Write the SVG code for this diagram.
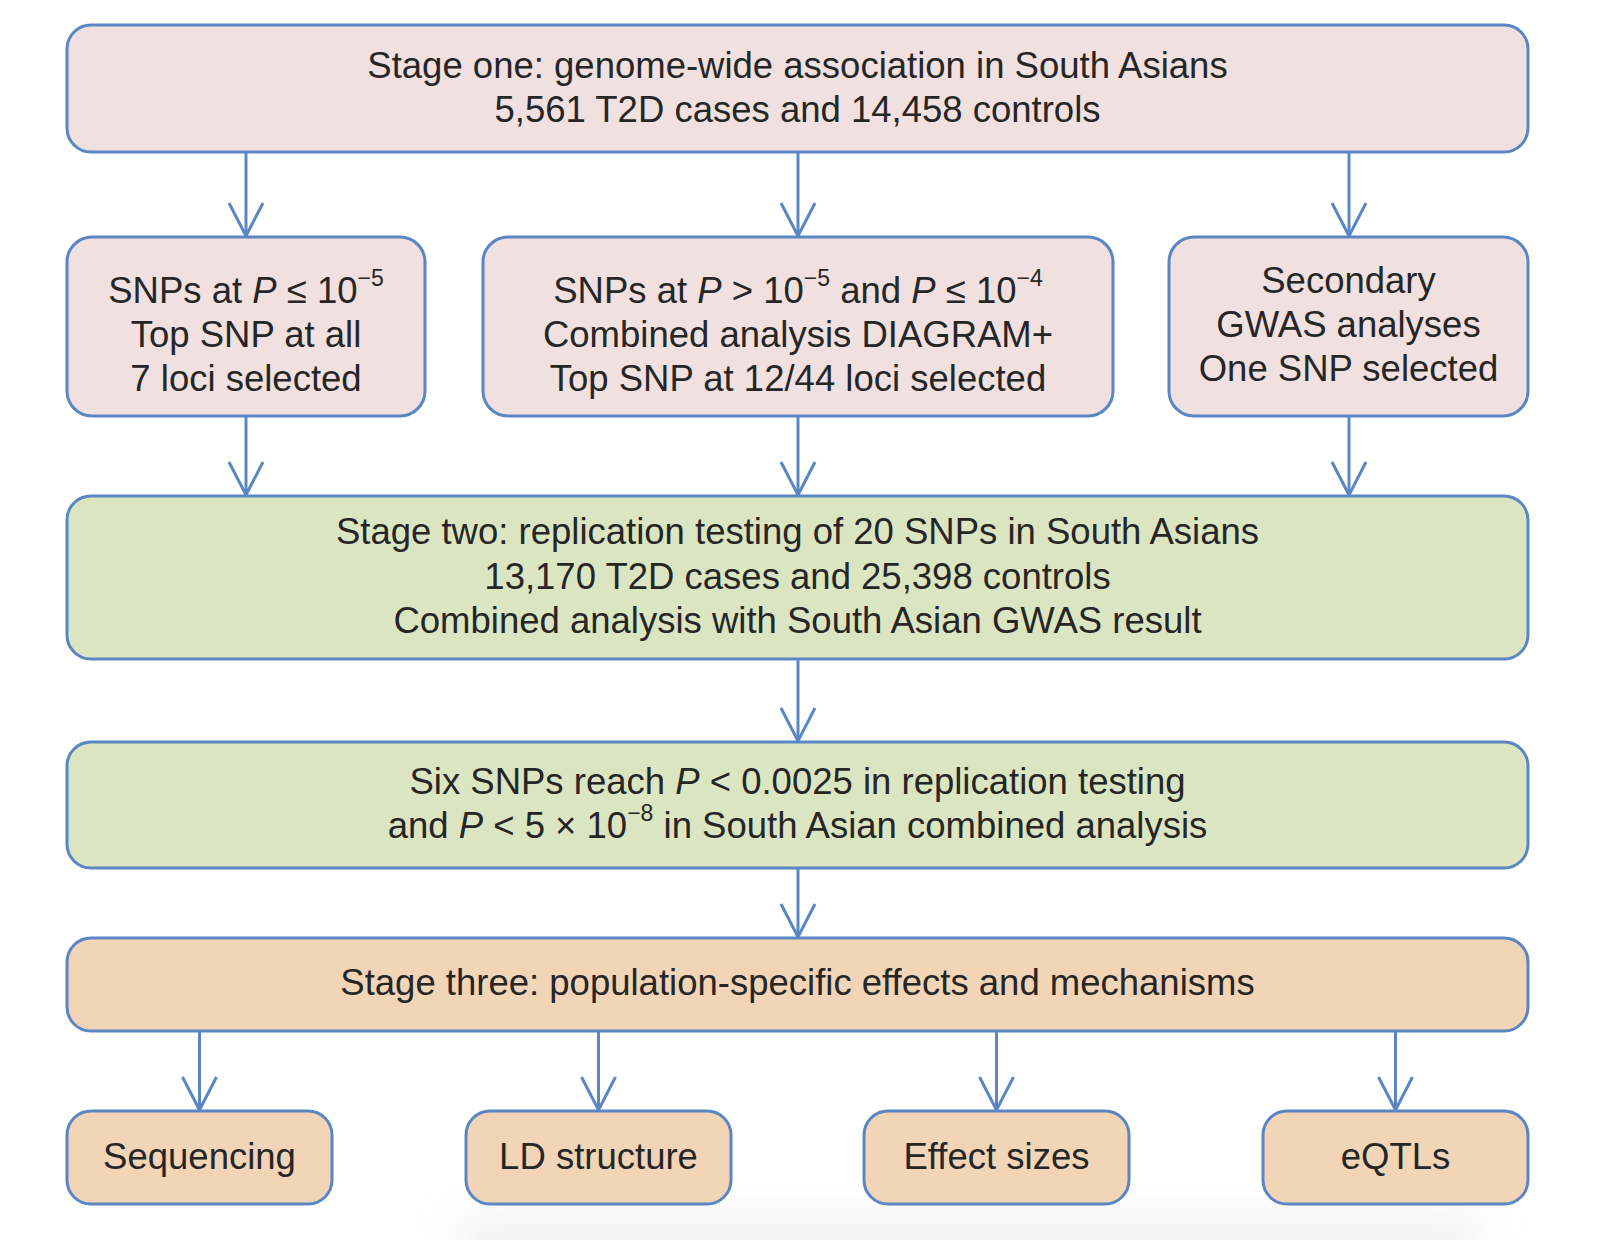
<svg xmlns="http://www.w3.org/2000/svg" width="1608" height="1240" viewBox="0 0 1608 1240">
<style>
.box{stroke:#5a86c3;stroke-width:3}
.pink{fill:#f0e0e0}
.green{fill:#dce5c1}
.orange{fill:#f2d4b7}
text{font-family:"Liberation Sans",Arial,Helvetica,sans-serif;font-size:36.5px;fill:#262626;text-anchor:middle}
.sup{font-size:23px}
.it{font-style:italic}
.conn{stroke:#5a86c3;stroke-width:3;fill:none}
</style>
<defs>
<marker id="arr" viewBox="0 0 40 40" refX="36" refY="20" markerWidth="40" markerHeight="40" markerUnits="userSpaceOnUse" orient="auto">
<path d="M3,3 L36,20 L3,37" fill="none" stroke="#5a86c3" stroke-width="3"/>
</marker>
<filter id="blur" x="-20%" y="-50%" width="140%" height="200%"><feGaussianBlur stdDeviation="20"/></filter>
</defs>
<rect x="0" y="0" width="1608" height="1240" fill="#ffffff"/>
<rect x="460" y="1215" width="1020" height="60" fill="#e6e6e6" opacity="0.5" filter="url(#blur)"/>

<g id="connectors">
<line class="conn" x1="246" y1="152" x2="246" y2="236" marker-end="url(#arr)"/>
<line class="conn" x1="798" y1="152" x2="798" y2="236" marker-end="url(#arr)"/>
<line class="conn" x1="1349" y1="152" x2="1349" y2="236" marker-end="url(#arr)"/>
<line class="conn" x1="246" y1="416" x2="246" y2="495" marker-end="url(#arr)"/>
<line class="conn" x1="798" y1="416" x2="798" y2="495" marker-end="url(#arr)"/>
<line class="conn" x1="1349" y1="416" x2="1349" y2="495" marker-end="url(#arr)"/>
<line class="conn" x1="798" y1="659" x2="798" y2="741" marker-end="url(#arr)"/>
<line class="conn" x1="798" y1="868" x2="798" y2="937" marker-end="url(#arr)"/>
<line class="conn" x1="199.5" y1="1031" x2="199.5" y2="1110" marker-end="url(#arr)"/>
<line class="conn" x1="598.5" y1="1031" x2="598.5" y2="1110" marker-end="url(#arr)"/>
<line class="conn" x1="996.5" y1="1031" x2="996.5" y2="1110" marker-end="url(#arr)"/>
<line class="conn" x1="1395.5" y1="1031" x2="1395.5" y2="1110" marker-end="url(#arr)"/>
</g>

<g id="stage-one">
<rect class="box pink" x="67" y="25" width="1461" height="127" rx="24"/>
<text x="797.5" y="78">Stage one: genome-wide association in South Asians</text>
<text x="797.5" y="122">5,561 T2D cases and 14,458 controls</text>
</g>

<g id="snps-p-1e5">
<rect class="box pink" x="67" y="237" width="358" height="179" rx="25"/>
<text x="246" y="303">SNPs at <tspan class="it">P</tspan> ≤ 10<tspan class="sup" dy="-17">−5</tspan></text>
<text x="246" y="347">Top SNP at all</text>
<text x="246" y="391">7 loci selected</text>
</g>

<g id="snps-p-1e4">
<rect class="box pink" x="483" y="237" width="630" height="179" rx="25"/>
<text x="798" y="303">SNPs at <tspan class="it">P</tspan> &gt; 10<tspan class="sup" dy="-17">−5</tspan><tspan dy="17"> and </tspan><tspan class="it">P</tspan> ≤ 10<tspan class="sup" dy="-17">−4</tspan></text>
<text x="798" y="347">Combined analysis DIAGRAM+</text>
<text x="798" y="391">Top SNP at 12/44 loci selected</text>
</g>

<g id="secondary">
<rect class="box pink" x="1169" y="237" width="359" height="179" rx="25"/>
<text x="1348.5" y="293">Secondary</text>
<text x="1348.5" y="337">GWAS analyses</text>
<text x="1348.5" y="381">One SNP selected</text>
</g>

<g id="stage-two">
<rect class="box green" x="67" y="496" width="1461" height="163" rx="24"/>
<text x="797.5" y="544">Stage two: replication testing of 20 SNPs in South Asians</text>
<text x="797.5" y="589">13,170 T2D cases and 25,398 controls</text>
<text x="797.5" y="633">Combined analysis with South Asian GWAS result</text>
</g>

<g id="six-snps">
<rect class="box green" x="67" y="742" width="1461" height="126" rx="24"/>
<text x="797.5" y="794">Six SNPs reach <tspan class="it">P</tspan> &lt; 0.0025 in replication testing</text>
<text x="797.5" y="838">and <tspan class="it">P</tspan> &lt; 5 × 10<tspan class="sup" dy="-17">−8</tspan><tspan dy="17"> in South Asian combined analysis</tspan></text>
</g>

<g id="stage-three">
<rect class="box orange" x="67" y="938" width="1461" height="93" rx="24"/>
<text x="797.5" y="995">Stage three: population-specific effects and mechanisms</text>
</g>

<g id="sequencing">
<rect class="box orange" x="67" y="1111" width="265" height="93" rx="24"/>
<text x="199.5" y="1169">Sequencing</text>
</g>
<g id="ld-structure">
<rect class="box orange" x="466" y="1111" width="265" height="93" rx="24"/>
<text x="598.5" y="1169">LD structure</text>
</g>
<g id="effect-sizes">
<rect class="box orange" x="864" y="1111" width="265" height="93" rx="24"/>
<text x="996.5" y="1169">Effect sizes</text>
</g>
<g id="eqtls">
<rect class="box orange" x="1263" y="1111" width="265" height="93" rx="24"/>
<text x="1395.5" y="1169">eQTLs</text>
</g>
</svg>
